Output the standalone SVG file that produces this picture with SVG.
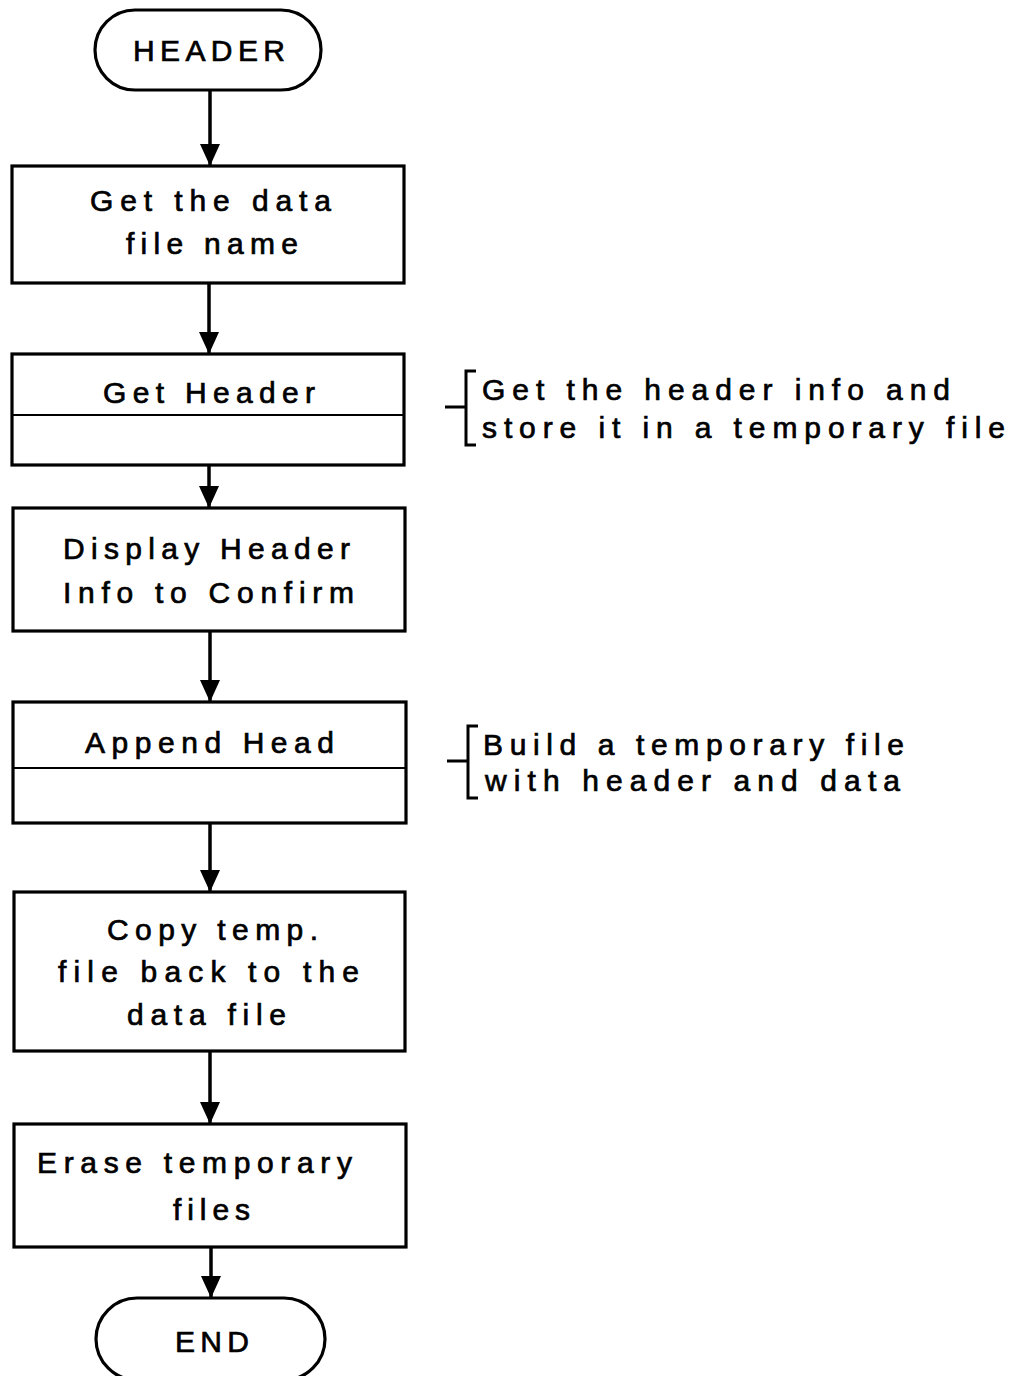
<svg xmlns="http://www.w3.org/2000/svg" width="1015" height="1376" viewBox="0 0 1015 1376">
<style>
.box{fill:#fff;stroke:#000;stroke-width:3.2}
.div{stroke:#000;stroke-width:2}
.t{font-family:"Liberation Sans",Arial,sans-serif;font-size:30px;fill:#000;stroke:#000;stroke-width:0.7}
.c{stroke:#000;stroke-width:3.5;fill:none}
.br{stroke:#000;stroke-width:3;fill:none}
</style>
<defs>
<marker id="a" markerWidth="22" markerHeight="20" viewBox="0 0 22 20" refX="22" refY="10" orient="auto" markerUnits="userSpaceOnUse">
<path d="M0,0 L22,10 L0,20 Z" fill="#000"/>
</marker>
</defs>
<g id="connectors">
<line class="c" x1="210" y1="90" x2="210" y2="166" marker-end="url(#a)"/>
<line class="c" x1="209" y1="283" x2="209" y2="354" marker-end="url(#a)"/>
<line class="c" x1="209" y1="465" x2="209" y2="508" marker-end="url(#a)"/>
<line class="c" x1="210" y1="631" x2="210" y2="702" marker-end="url(#a)"/>
<line class="c" x1="210" y1="823" x2="210" y2="892" marker-end="url(#a)"/>
<line class="c" x1="210" y1="1051" x2="210" y2="1124" marker-end="url(#a)"/>
<line class="c" x1="211" y1="1247" x2="211" y2="1298" marker-end="url(#a)"/>
</g>
<g id="header">
<rect class="box" x="95" y="10" width="226" height="80" rx="40" ry="40"/>
<text class="t" x="133" y="61" textLength="152" lengthAdjust="spacing">HEADER</text>
</g>
<g id="get-file-name">
<rect class="box" x="12" y="166" width="392" height="117"/>
<text class="t" x="90" y="211" textLength="241" lengthAdjust="spacing">Get the data</text>
<text class="t" x="126" y="254" textLength="172" lengthAdjust="spacing">file name</text>
</g>
<g id="get-header">
<rect class="box" x="12" y="354" width="392" height="111"/>
<line class="div" x1="12" y1="415" x2="404" y2="415"/>
<text class="t" x="103" y="403" textLength="212" lengthAdjust="spacing">Get Header</text>
</g>
<g id="display-header">
<rect class="box" x="13" y="508" width="392" height="123"/>
<text class="t" x="63" y="559" textLength="287" lengthAdjust="spacing">Display Header</text>
<text class="t" x="63" y="603" textLength="291" lengthAdjust="spacing">Info to Confirm</text>
</g>
<g id="append-head">
<rect class="box" x="13" y="702" width="393" height="121"/>
<line class="div" x1="13" y1="768" x2="406" y2="768"/>
<text class="t" x="85" y="753" textLength="249" lengthAdjust="spacing">Append Head</text>
</g>
<g id="copy-temp">
<rect class="box" x="14" y="892" width="391" height="159"/>
<text class="t" x="107" y="940" textLength="211" lengthAdjust="spacing">Copy temp.</text>
<text class="t" x="58" y="982" textLength="301" lengthAdjust="spacing">file back to the</text>
<text class="t" x="127" y="1025" textLength="159" lengthAdjust="spacing">data file</text>
</g>
<g id="erase-temp">
<rect class="box" x="14" y="1124" width="392" height="123"/>
<text class="t" x="37" y="1173" textLength="315" lengthAdjust="spacing">Erase temporary</text>
<text class="t" x="173" y="1220" textLength="77" lengthAdjust="spacing">files</text>
</g>
<g id="end">
<rect class="box" x="96" y="1298" width="229" height="82" rx="41" ry="41"/>
<text class="t" x="175" y="1352" textLength="74" lengthAdjust="spacing">END</text>
</g>
<g id="note-get-header">
<path class="br" d="M445,407 H466 M476,371 H466 V445 H476"/>
<text class="t" x="482" y="400" textLength="468" lengthAdjust="spacing">Get the header info and</text>
<text class="t" x="482" y="438" textLength="523" lengthAdjust="spacing">store it in a temporary file</text>
</g>
<g id="note-append-head">
<path class="br" d="M447,761 H468 M478,726 H468 V798 H478"/>
<text class="t" x="483" y="755" textLength="421" lengthAdjust="spacing">Build a temporary file</text>
<text class="t" x="485" y="791" textLength="415" lengthAdjust="spacing">with header and data</text>
</g>
</svg>
